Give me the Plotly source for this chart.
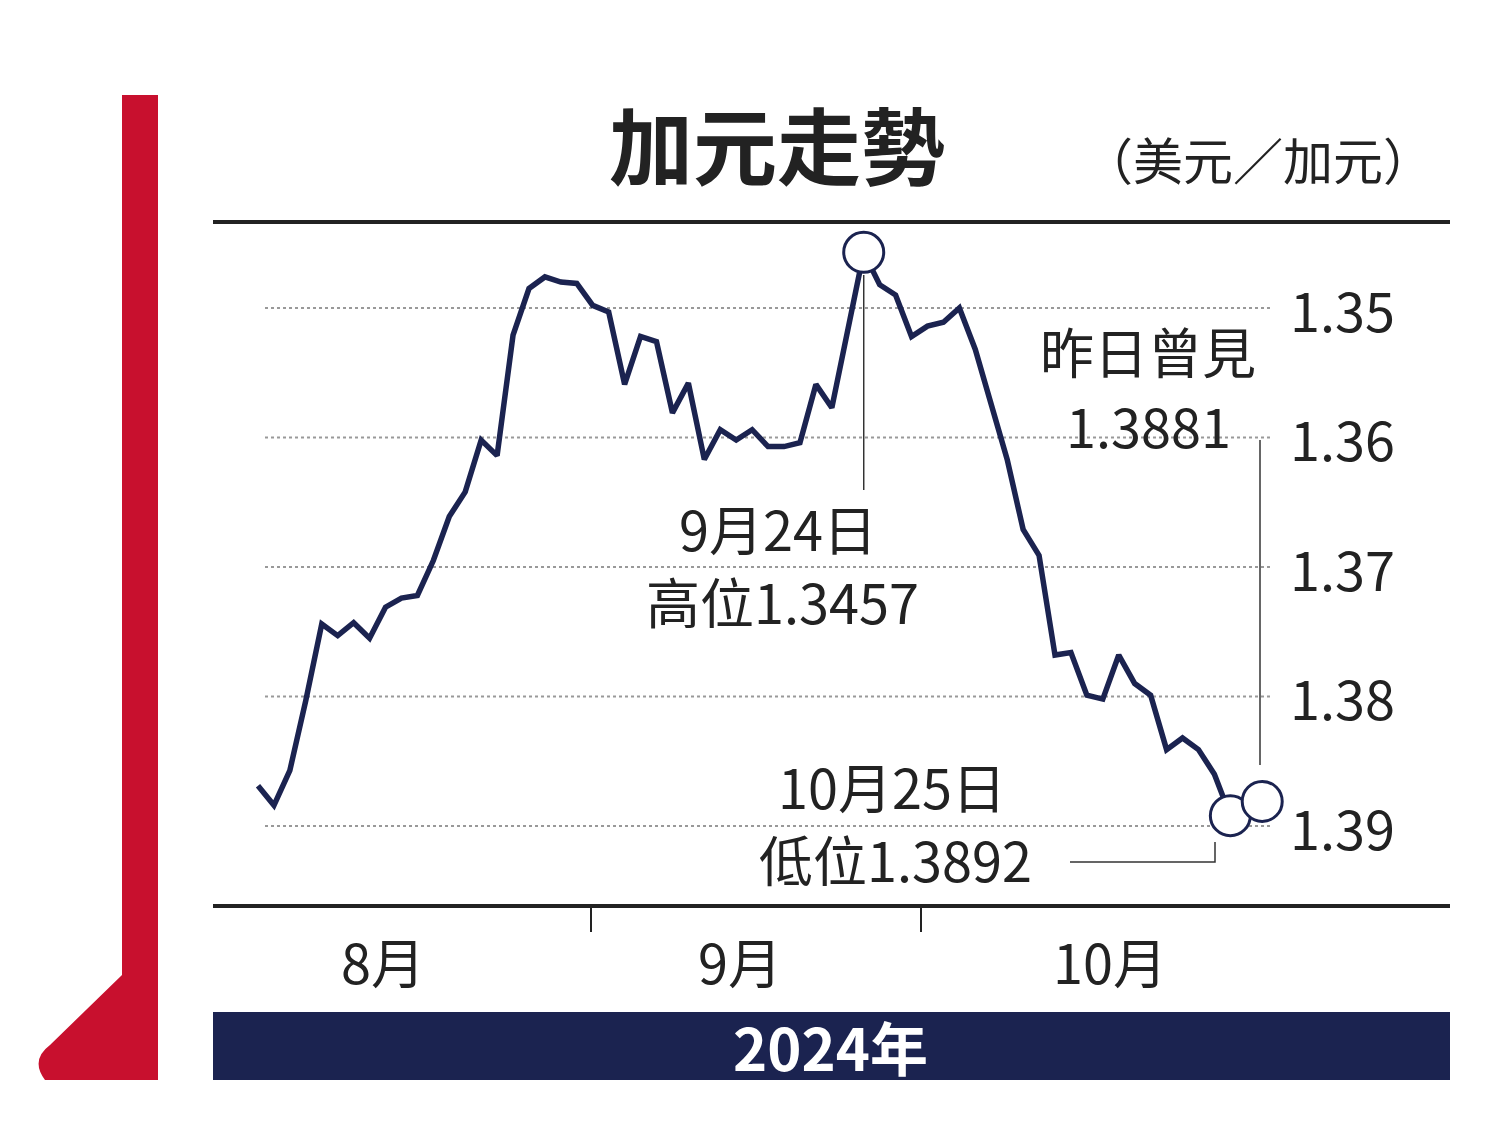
import plotly.graph_objects as go
import pandas as pd

values = [1.3869,1.3884,1.3857,1.3803,1.3744,1.3753,1.3743,1.3755,1.3731,1.3724,1.3722,1.3695,1.3661,1.3642,1.3602,1.3614,1.3521,1.3485,1.3476,1.3480,1.3481,1.3498,1.3503,1.3559,1.3522,1.3526,1.3581,1.3558,1.3617,1.3594,1.3602,1.3594,1.3607,1.3607,1.3604,1.3559,1.3577,1.3517,1.3457,1.3482,1.3490,1.3522,1.3514,1.3511,1.3500,1.3532,1.3575,1.3617,1.3671,1.3691,1.3768,1.3766,1.3799,1.3802,1.3768,1.3790,1.3799,1.3841,1.3832,1.3841,1.3860,1.3892,1.3891,1.3881]
dates = pd.bdate_range("2024-08-01", periods=len(values))
idx = list(range(len(values)))
months = ["8月", "9月", "10月"]
yticks = [1.35, 1.36, 1.37, 1.38, 1.39]
FONT = "Noto Sans CJK TC"
NAVY = "#1b2350"

W, H = 1500, 1121
OFF = 8  # page body margin
def px(x): return (x - OFF) / W
def py(y): return 1 - (y - OFF) / H

fig = go.Figure()
fig.add_trace(go.Scatter(x=idx, y=values, mode="lines", line=dict(color=NAVY, width=5.5), hoverinfo="skip"))
hi = values.index(min(values)); lo = values.index(max(values[50:])); last = len(values) - 1
fig.add_trace(go.Scatter(x=[hi, lo, last], y=[values[hi], values[lo], values[last]], mode="markers",
                         marker=dict(size=40, color="white", line=dict(color=NAVY, width=3))))

shapes = []
for v in yticks:
    shapes.append(dict(type="line", xref="paper", yref="y", x0=px(265), x1=px(1272), y0=v, y1=v,
                       line=dict(color="#999", width=2, dash="dot"), layer="below"))
shapes += [
    dict(type="rect", xref="paper", yref="paper", x0=px(122), x1=px(158), y0=py(1080), y1=py(95), fillcolor="#c8102e", line_width=0),
    dict(type="path", xref="paper", yref="paper", path=f"M {px(122)} {py(975)} L {px(122)} {py(1080)} L {px(45)} {py(1080)} Q {px(30)} {py(1060)} {px(50)} {py(1045)} Z", fillcolor="#c8102e", line_width=0),
    dict(type="line", xref="paper", yref="paper", x0=px(213), x1=px(1450), y0=py(222), y1=py(222), line=dict(color="#222", width=4)),
    dict(type="line", xref="paper", yref="paper", x0=px(213), x1=px(1450), y0=py(906), y1=py(906), line=dict(color="#222", width=4)),
    dict(type="line", xref="paper", yref="paper", x0=px(591), x1=px(591), y0=py(906), y1=py(932), line=dict(color="#222", width=2)),
    dict(type="line", xref="paper", yref="paper", x0=px(921), x1=px(921), y0=py(906), y1=py(932), line=dict(color="#222", width=2)),
    dict(type="rect", xref="paper", yref="paper", x0=px(213), x1=px(1450), y0=py(1080), y1=py(1012), fillcolor=NAVY, line_width=0),
    dict(type="line", xref="x", yref="paper", x0=hi, x1=hi, y0=py(275), y1=py(490), line=dict(color="#333", width=1.5)),
    dict(type="path", xref="paper", yref="paper", path=f"M {px(1215)} {py(842)} L {px(1215)} {py(862)} L {px(1070)} {py(862)}", line=dict(color="#333", width=1.5)),
    dict(type="line", xref="paper", yref="paper", x0=px(1260), x1=px(1260), y0=py(440), y1=py(765), line=dict(color="#333", width=1.5)),
]

ann = []
def T(x, y, text, size, color="#222", xa="center", weight=None):
    t = f"<b>{text}</b>" if weight else text
    ann.append(dict(xref="paper", yref="paper", x=px(x), y=py(y), text=t, showarrow=False,
                    font=dict(family=FONT, size=size, color=color), xanchor=xa, yanchor="middle"))
T(777, 142, "加元走勢", 84, weight=True)
T(1258, 158, "（美元／加元）", 50)
for v in yticks:
    ann.append(dict(xref="paper", yref="y", x=px(1288), y=v, text=f"{v:.2f}", showarrow=False,
                    font=dict(family=FONT, size=54, color="#222"), xanchor="left", yanchor="middle"))
for m, x in zip(months, [383, 740, 1110]):
    T(x, 960, m, 54)
T(830, 1046, "2024年", 58, color="white", weight=True)
T(778, 527, "9月24日", 54)
T(782, 600, "高位1.3457", 54)
T(892, 785, "10月25日", 54)
T(895, 858, "低位1.3892", 54)
T(1148, 350, "昨日曾見", 54)
T(1148, 425, "1.3881", 54)
fig.update_layout(
    width=W, height=H, margin=dict(l=0, r=0, t=0, b=0), paper_bgcolor="white", plot_bgcolor="white",
    showlegend=False, shapes=shapes, annotations=ann,
    xaxis=dict(range=[(OFF - 258) / 15.94, (W + OFF - 258) / 15.94], visible=False),
    yaxis=dict(range=[1.35 + (H + OFF - 308) / 12950, 1.35 + (OFF - 308) / 12950], visible=False),
)
fig.write_html("out.html")
